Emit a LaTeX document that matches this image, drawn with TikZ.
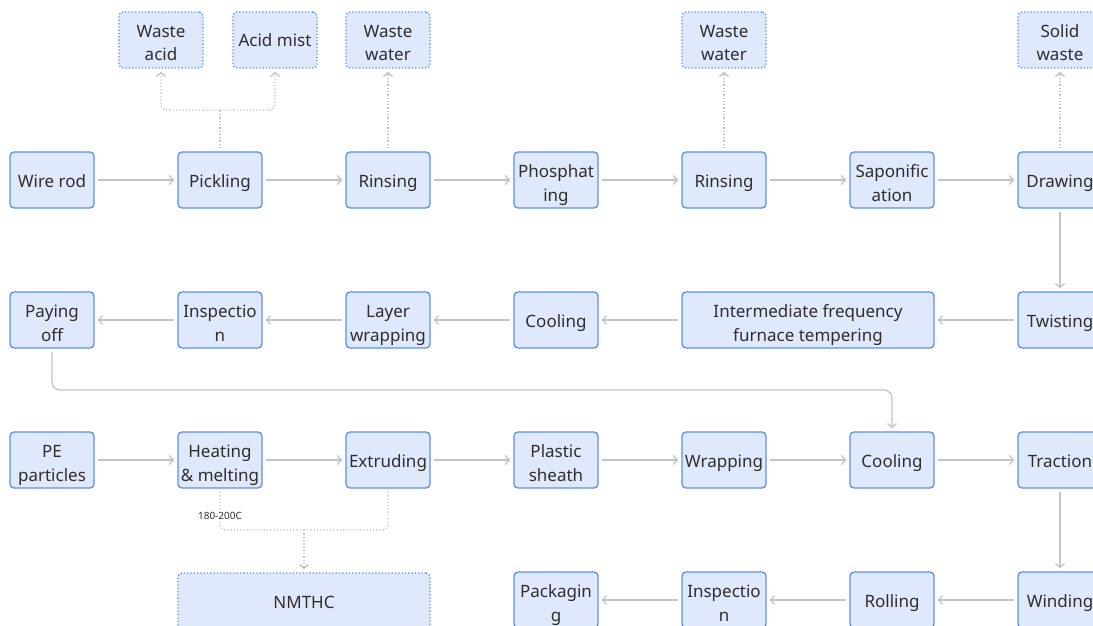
\documentclass[tikz,border=0pt]{standalone}
\usepackage{fontspec}
\setmainfont{Noto Sans}
\usetikzlibrary{arrows.meta}
\definecolor{boxfill}{HTML}{E0E8FC}
\definecolor{boxline}{HTML}{5B8FF0}
\definecolor{flowgrey}{HTML}{C4C4C4}
\definecolor{txtgrey}{HTML}{2E2E2E}
\newcommand\boxstrut{\rule[-5pt]{0pt}{24pt}}
\newcommand\tl{\rule[-5pt]{0pt}{28pt}}
\tikzset{
  proc/.style={draw=boxline, fill=boxfill, rounded corners=4pt, line width=1.3pt,
    minimum width=84pt, minimum height=56pt, inner sep=0pt, align=center,
    text=txtgrey, font=\fontsize{17}{24}\selectfont,
    execute at begin node=\boxstrut, execute at end node=\boxstrut},
  waste/.style={proc, dotted},
  flow/.style={draw=flowgrey, line width=1.3pt, shorten >=3pt, shorten <=3pt,
    -{Straight Barb[length=4pt,width=9pt]}},
  drain/.style={flow, dotted, rounded corners=6pt},
  templabel/.style={fill=white, inner sep=1pt, text=txtgrey, font=\fontsize{10}{11}\selectfont}
}
\begin{document}
\begin{tikzpicture}[x=1pt, y=-1pt]
  \useasboundingbox (0,0) rectangle (1093,626);
  % wire line
  \node[proc] (wirerod)  at (52,180)   {Wire rod};
  \node[proc] (pickling) at (220,180)  {Pickling};
  \node[proc] (rinseA)   at (388,180)  {Rinsing};
  \node[proc] (phos)     at (556,180)  {\tl Phosphat\\ing};
  \node[proc] (rinseB)   at (724,180)  {Rinsing};
  \node[proc] (sapon)    at (892,180)  {\tl Saponific\\ation};
  \node[proc] (drawing)  at (1060,180) {Drawing};
  \node[proc] (twisting) at (1060,320) {Twisting};
  \node[proc, minimum width=252pt] (iffurnace) at (808,320) {\tl Intermediate frequency\\furnace tempering};
  \node[proc] (coolA)    at (556,320)  {Cooling};
  \node[proc] (layerwrap) at (388,320) {\tl Layer\\wrapping};
  \node[proc] (inspA)    at (220,320)  {\tl Inspectio\\n};
  \node[proc] (payoff)   at (52,320)   {\tl Paying\\off};
  % sheath line
  \node[proc] (pe)       at (52,460)   {\tl PE\\particles};
  \node[proc] (heatmelt) at (220,460)  {\tl Heating\\\&~melting};
  \node[proc] (extrude)  at (388,460)  {Extruding};
  \node[proc] (sheath)   at (556,460)  {\tl Plastic\\sheath};
  \node[proc] (wrapping) at (724,460)  {Wrapping};
  \node[proc] (coolB)    at (892,460)  {Cooling};
  \node[proc] (traction) at (1060,460) {Traction};
  \node[proc] (winding)  at (1060,600) {Winding};
  \node[proc] (rolling)  at (892,600)  {Rolling};
  \node[proc] (inspB)    at (724,600)  {\tl Inspectio\\n};
  \node[proc] (packaging) at (556,600) {\tl Packagin\\g};
  % emissions
  \node[waste] (wacid)   at (161,40)   {\tl Waste\\acid};
  \node[waste] (amist)   at (275,40)   {Acid mist};
  \node[waste] (wwaterA) at (388,40)   {\tl Waste\\water};
  \node[waste] (wwaterB) at (724,40)   {\tl Waste\\water};
  \node[waste] (swaste)  at (1060,40)  {\tl Solid\\waste};
  \node[waste, minimum width=252pt] (nmthc) at (304,601) {NMTHC};

  \draw[flow] (wirerod) -- (pickling);
  \draw[flow] (pickling) -- (rinseA);
  \draw[flow] (rinseA) -- (phos);
  \draw[flow] (phos) -- (rinseB);
  \draw[flow] (rinseB) -- (sapon);
  \draw[flow] (sapon) -- (drawing);
  \draw[flow] (drawing) -- (twisting);
  \draw[flow] (twisting) -- (iffurnace);
  \draw[flow] (iffurnace) -- (coolA);
  \draw[flow] (coolA) -- (layerwrap);
  \draw[flow] (layerwrap) -- (inspA);
  \draw[flow] (inspA) -- (payoff);
  \coordinate (loopturn) at (52,390);
  \draw[flow, rounded corners=8pt] (payoff) -- (loopturn) -| (coolB);

  \draw[flow] (pe) -- (heatmelt);
  \draw[flow] (heatmelt) -- (extrude);
  \draw[flow] (extrude) -- (sheath);
  \draw[flow] (sheath) -- (wrapping);
  \draw[flow] (wrapping) -- (coolB);
  \draw[flow] (coolB) -- (traction);
  \draw[flow] (traction) -- (winding);
  \draw[flow] (winding) -- (rolling);
  \draw[flow] (rolling) -- (inspB);
  \draw[flow] (inspB) -- (packaging);

  % dotted emission lines
  \coordinate (pksplit) at (220,110);
  \draw[drain, -, shorten >=0pt] (pickling) -- (pksplit);
  \draw[drain, shorten <=0pt] (pksplit) -| (wacid);
  \draw[drain, shorten <=0pt] (pksplit) -| (amist);
  \draw[drain] (rinseA) -- (wwaterA);
  \draw[drain] (rinseB) -- (wwaterB);
  \draw[drain] (drawing) -- (swaste);
  \coordinate (nmjoin) at (304,530);
  \draw[drain, -, shorten >=0pt] (heatmelt) |- (nmjoin);
  \draw[drain, -, shorten >=0pt] (extrude) |- (nmjoin);
  \draw[drain, shorten <=0pt] (nmjoin) -- (nmthc);
  \node[templabel] (temprange) at (220,516) {180-200C};
\end{tikzpicture}
\end{document}
